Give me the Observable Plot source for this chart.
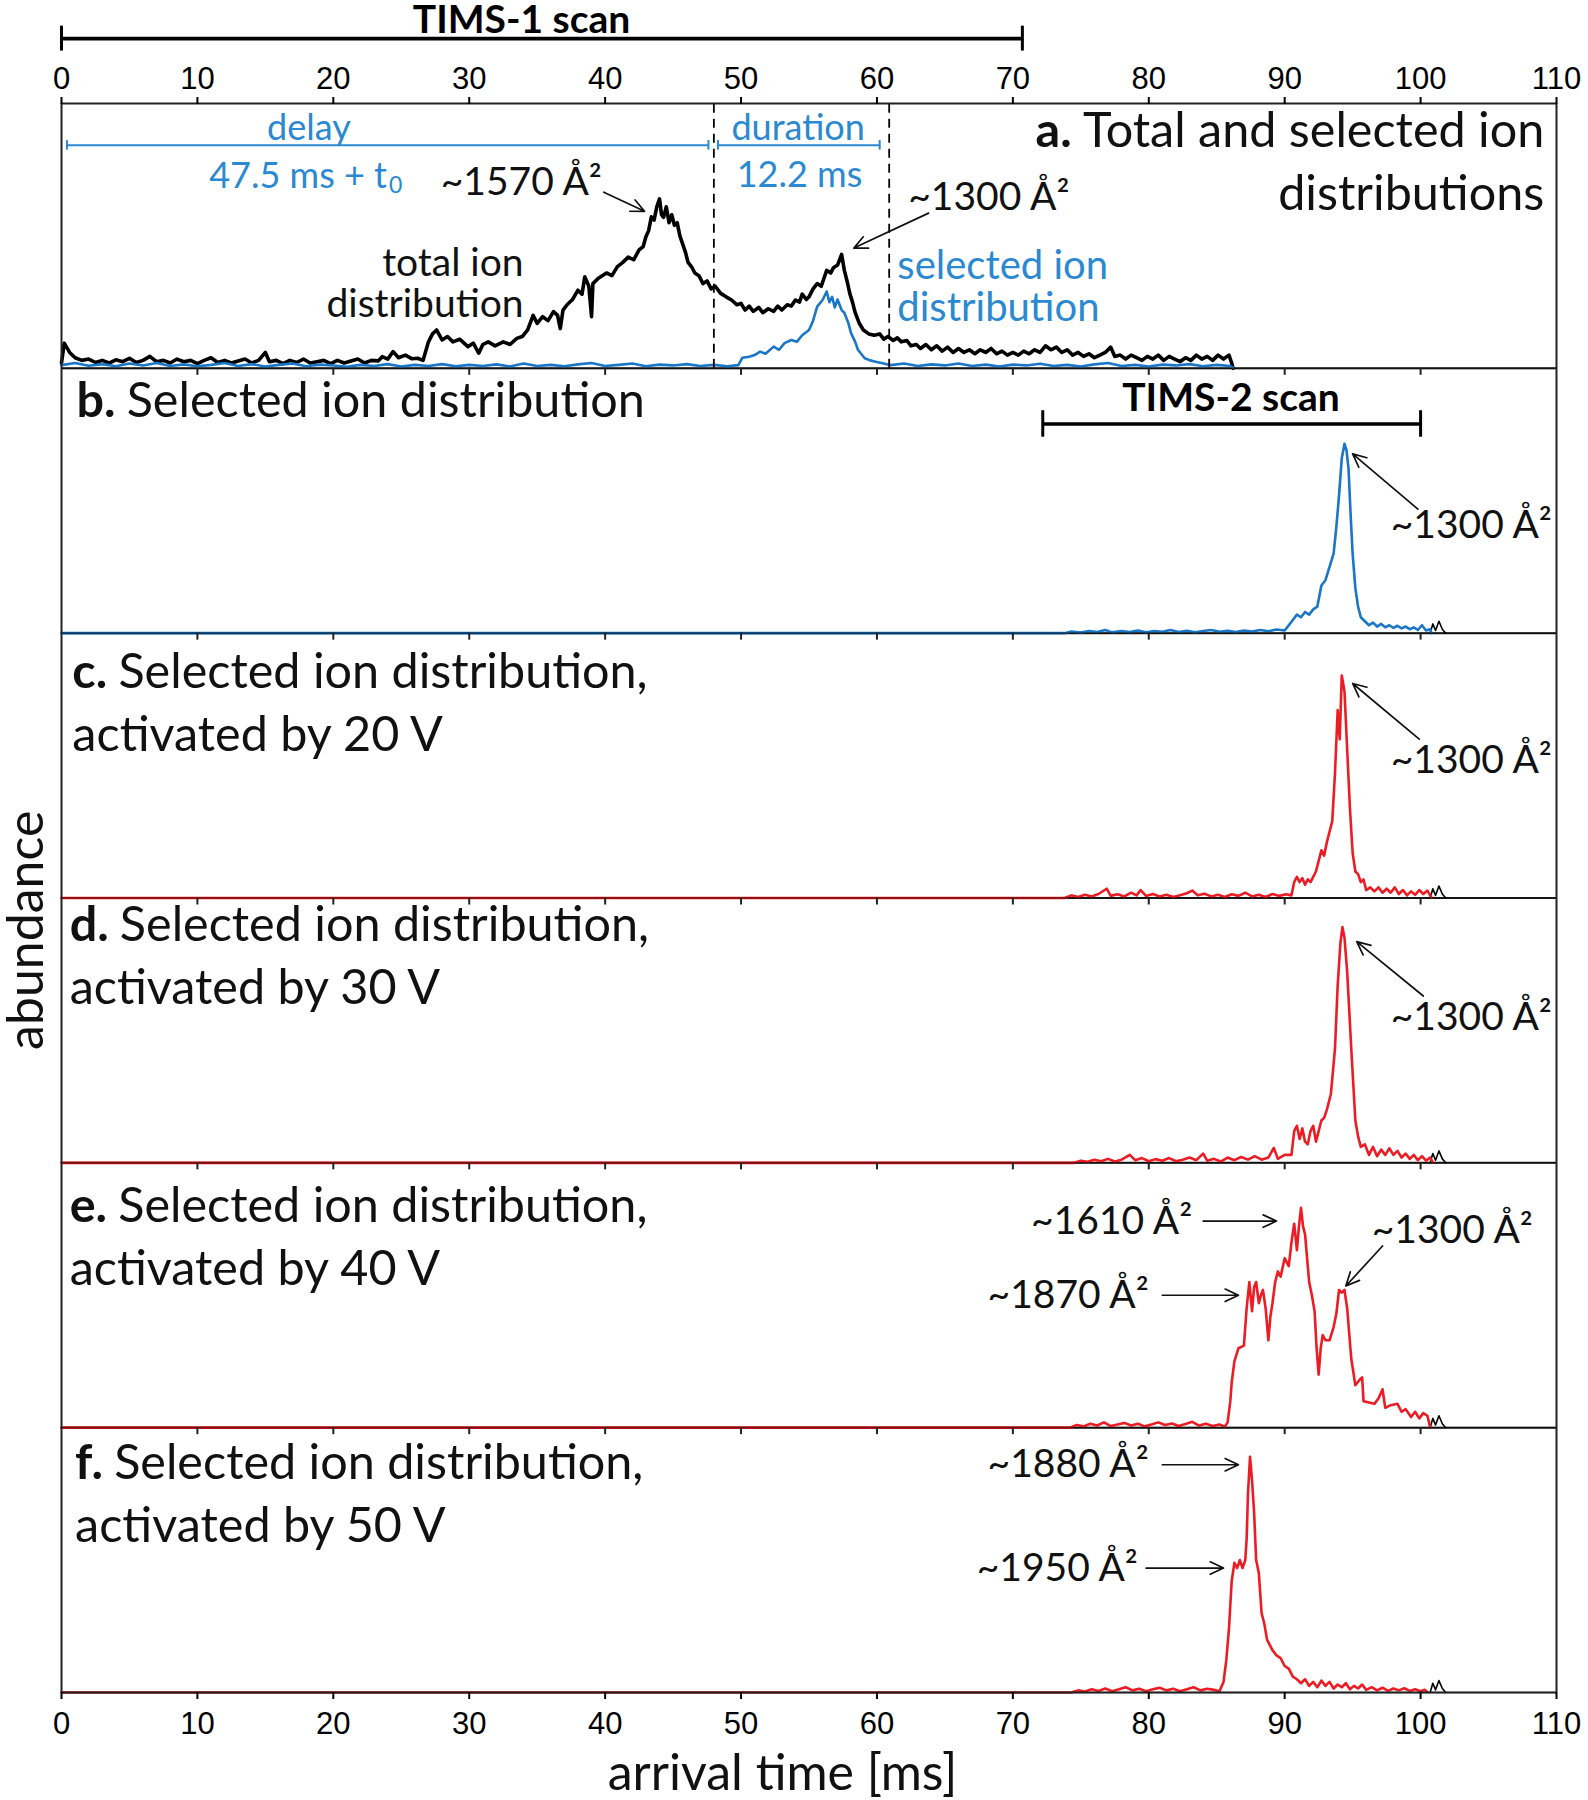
<!DOCTYPE html>
<html>
<head>
<meta charset="utf-8">
<script src="https://cdn.jsdelivr.net/npm/d3@7"></script>
<script src="https://cdn.jsdelivr.net/npm/@observablehq/plot@0.6"></script>
<style>
  html, body { margin: 0; padding: 0; background: #fff; }
  #chart svg { display: block; }
</style>
</head>
<body>
<div id="chart"></div>
<script>
// ---------------- data (arrival time [ms], relative abundance 0..1 of panel) ----------------
const xTicks = [0, 10, 20, 30, 40, 50, 60, 70, 80, 90, 100, 110];

const totalIonA = [[0,0.02],[0.2,0.095],[0.6,0.06],[1,0.04],[1.5,0.03],[2,0.035],[2.5,0.022],[3,0.03],[3.5,0.02],[4,0.032],[4.5,0.025],[5,0.038],[5.5,0.022],[6,0.03],[6.5,0.045],[7,0.025],[7.5,0.03],[8,0.02],[8.5,0.035],[9,0.025],[9.5,0.03],[10,0.018],[10.5,0.03],[11,0.04],[11.5,0.022],[12,0.03],[12.5,0.02],[13,0.028],[13.5,0.035],[14,0.02],[14.5,0.03],[15,0.06],[15.3,0.025],[15.8,0.03],[16.3,0.018],[16.8,0.03],[17.3,0.022],[17.8,0.035],[18.3,0.02],[18.8,0.025],[19.3,0.03],[19.8,0.018],[20.3,0.03],[20.8,0.02],[21.3,0.028],[21.8,0.035],[22.3,0.02],[22.8,0.03],[23.3,0.028],[23.6,0.044],[24.0,0.035],[24.4,0.063],[24.8,0.04],[25.3,0.05],[25.8,0.036],[26.2,0.038],[26.6,0.03],[27.0,0.1],[27.3,0.13],[27.6,0.145],[28.0,0.107],[28.4,0.12],[28.8,0.1],[29.3,0.11],[29.9,0.082],[30.3,0.095],[30.7,0.057],[31.0,0.09],[31.4,0.1],[31.9,0.085],[32.5,0.1],[33.0,0.09],[33.5,0.113],[33.9,0.12],[34.3,0.145],[34.7,0.2],[35.0,0.17],[35.4,0.195],[35.8,0.18],[36.2,0.214],[36.5,0.2],[36.7,0.15],[36.9,0.22],[37.2,0.24],[37.6,0.26],[38.0,0.295],[38.3,0.28],[38.5,0.346],[38.8,0.31],[39.0,0.195],[39.1,0.32],[39.5,0.34],[40.1,0.36],[40.5,0.35],[40.9,0.384],[41.3,0.4],[41.7,0.42],[42.1,0.41],[42.5,0.447],[42.8,0.46],[43.0,0.497],[43.2,0.52],[43.4,0.572],[43.6,0.56],[43.8,0.61],[44.0,0.64],[44.15,0.58],[44.3,0.57],[44.5,0.61],[44.7,0.55],[44.9,0.58],[45.1,0.54],[45.3,0.55],[45.5,0.5],[45.7,0.47],[45.9,0.44],[46.1,0.40],[46.4,0.38],[46.6,0.36],[46.9,0.35],[47.2,0.32],[47.5,0.33],[47.8,0.3],[48.1,0.31],[48.5,0.283],[48.9,0.27],[49.3,0.258],[49.7,0.24],[50.0,0.245],[50.3,0.22],[50.6,0.235],[50.9,0.215],[51.3,0.23],[51.6,0.21],[52.0,0.225],[52.4,0.215],[52.7,0.235],[53.0,0.22],[53.4,0.24],[53.7,0.235],[54.0,0.258],[54.3,0.25],[54.5,0.28],[54.8,0.26],[55.0,0.27],[55.3,0.3],[55.6,0.32],[55.9,0.31],[56.3,0.37],[56.6,0.36],[56.8,0.38],[57.1,0.39],[57.4,0.43],[57.6,0.37],[57.8,0.33],[58.0,0.283],[58.2,0.25],[58.4,0.21],[58.7,0.17],[59.0,0.145],[59.4,0.13],[59.8,0.125],[60.2,0.13],[60.5,0.11],[60.8,0.12],[61.2,0.105],[61.5,0.115],[61.8,0.1],[62.2,0.105],[62.5,0.085],[62.9,0.09],[63.2,0.075],[63.6,0.09],[64,0.07],[64.4,0.085],[64.8,0.065],[65.2,0.08],[65.6,0.06],[66,0.075],[66.4,0.06],[66.8,0.07],[67.2,0.055],[67.6,0.07],[68,0.06],[68.4,0.075],[68.8,0.055],[69.2,0.065],[69.6,0.05],[70,0.06],[70.4,0.05],[70.8,0.065],[71.2,0.055],[71.6,0.07],[72,0.06],[72.4,0.085],[72.8,0.07],[73.2,0.08],[73.6,0.06],[74,0.07],[74.4,0.05],[74.8,0.06],[75.2,0.045],[75.6,0.055],[76,0.04],[76.4,0.05],[76.8,0.06],[77.2,0.08],[77.5,0.045],[77.9,0.05],[78.3,0.035],[78.7,0.05],[79.1,0.04],[79.5,0.03],[79.9,0.045],[80.3,0.035],[80.7,0.05],[81.1,0.03],[81.5,0.045],[81.9,0.035],[82.3,0.025],[82.7,0.04],[83.1,0.03],[83.5,0.05],[83.9,0.035],[84.3,0.045],[84.7,0.03],[85.1,0.05],[85.5,0.035],[85.9,0.05],[86.1,0.02],[86.2,0]];

const selectedIonA = [[0,0.012],[1,0.02],[2,0.01],[3,0.016],[4,0.008],[5,0.018],[6,0.011],[7,0.02],[8,0.009],[9,0.015],[10,0.008],[11,0.013],[12,0.02],[13,0.009],[14,0.016],[15,0.007],[16,0.013],[17,0.018],[18,0.008],[19,0.014],[20,0.011],[21,0.006],[22,0.013],[23,0.009],[24,0.016],[25,0.007],[26,0.013],[27,0.009],[28,0.016],[29,0.008],[30,0.013],[31,0.009],[32,0.015],[33,0.007],[34,0.018],[35,0.009],[36,0.013],[37,0.008],[38,0.015],[39,0.02],[40,0.009],[41,0.013],[42,0.018],[43,0.008],[44,0.014],[45,0.011],[46,0.016],[47,0.009],[48,0.013],[49,0.008],[49.8,0.012],[50.1,0.04],[50.6,0.044],[51.0,0.05],[51.4,0.063],[51.8,0.055],[52.4,0.082],[52.8,0.07],[53.2,0.095],[53.7,0.107],[54.1,0.1],[54.5,0.125],[55.0,0.145],[55.3,0.18],[55.6,0.233],[56.0,0.258],[56.3,0.29],[56.5,0.25],[56.7,0.27],[56.9,0.23],[57.1,0.26],[57.4,0.22],[57.6,0.21],[57.9,0.17],[58.1,0.132],[58.4,0.1],[58.6,0.07],[59.1,0.038],[59.5,0.03],[59.9,0.025],[60.5,0.018],[61,0.012],[62,0.018],[63,0.009],[64,0.015],[65,0.011],[66,0.018],[67,0.009],[68,0.014],[69,0.007],[70,0.014],[71,0.011],[72,0.017],[73,0.009],[74,0.013],[75,0.007],[76,0.015],[77,0.02],[78,0.009],[79,0.013],[80,0.007],[81,0.014],[82,0.011],[83,0.016],[84,0.008],[85,0.013],[86,0.009],[86.2,0.002]];

const selectedB = [[0,0],[73.8,0],[74.3,0.006],[75,0.002],[75.6,0.008],[76.2,0.004],[76.8,0.012],[77.3,0.003],[78,0.008],[78.6,0.004],[79.2,0.01],[79.8,0.003],[80.4,0.008],[81,0.005],[81.6,0.012],[82.2,0.004],[82.8,0.009],[83.4,0.003],[84,0.008],[84.6,0.012],[85.2,0.005],[85.8,0.009],[86.4,0.004],[87,0.01],[87.6,0.006],[88.2,0.012],[88.8,0.007],[89.4,0.014],[90,0.01],[90.3,0.03],[90.6,0.05],[90.9,0.07],[91.2,0.06],[91.5,0.08],[91.8,0.07],[92.1,0.09],[92.4,0.1],[92.7,0.18],[93,0.2],[93.3,0.25],[93.6,0.3],[93.8,0.4],[94,0.52],[94.2,0.66],[94.4,0.715],[94.55,0.69],[94.7,0.62],[94.85,0.45],[95.0,0.3],[95.2,0.17],[95.4,0.1],[95.6,0.06],[95.9,0.045],[96.2,0.03],[96.5,0.04],[96.8,0.025],[97.1,0.035],[97.4,0.022],[97.7,0.03],[98,0.02],[98.3,0.028],[98.6,0.018],[98.9,0.025],[99.2,0.015],[99.5,0.022],[99.8,0.012],[100.1,0.03],[100.4,0.01],[100.7,0.015],[100.8,0]];

const activated20 = [[0,0],[73.8,0],[74.3,0.01],[74.8,0.004],[75.3,0.012],[75.8,0.006],[76.3,0.015],[76.9,0.035],[77.2,0.008],[77.7,0.014],[78.2,0.006],[78.7,0.02],[79.1,0.01],[79.4,0.03],[79.8,0.008],[80.3,0.015],[80.8,0.006],[81.3,0.012],[81.8,0.004],[82.3,0.01],[82.8,0.018],[83.2,0.028],[83.6,0.01],[84.1,0.016],[84.6,0.006],[85.1,0.012],[85.6,0.004],[86.1,0.014],[86.6,0.008],[87.1,0.02],[87.6,0.006],[88.1,0.012],[88.6,0.004],[89.1,0.015],[89.6,0.008],[90.1,0.014],[90.5,0.01],[90.7,0.06],[90.9,0.08],[91.1,0.06],[91.3,0.075],[91.5,0.05],[91.7,0.07],[91.9,0.06],[92.1,0.08],[92.3,0.1],[92.5,0.14],[92.7,0.18],[92.9,0.16],[93.1,0.21],[93.3,0.25],[93.5,0.29],[93.7,0.47],[93.9,0.71],[94.05,0.6],[94.2,0.84],[94.4,0.78],[94.6,0.56],[94.8,0.34],[95.0,0.17],[95.2,0.1],[95.4,0.09],[95.6,0.06],[95.8,0.07],[96,0.03],[96.3,0.04],[96.6,0.025],[96.9,0.04],[97.2,0.02],[97.5,0.035],[97.8,0.02],[98.1,0.04],[98.4,0.015],[98.7,0.03],[99,0.01],[99.3,0.025],[99.6,0.012],[99.9,0.03],[100.2,0.015],[100.5,0.028],[100.8,0.002]];

const activated30 = [[0,0],[74.5,0],[75,0.008],[75.5,0.004],[76,0.012],[76.5,0.006],[77,0.015],[77.5,0.005],[78,0.012],[78.6,0.03],[79,0.01],[79.5,0.018],[80,0.006],[80.5,0.014],[81,0.008],[81.5,0.018],[82,0.006],[82.5,0.012],[83,0.02],[83.5,0.01],[84,0.035],[84.3,0.008],[84.8,0.015],[85.3,0.005],[85.8,0.02],[86.3,0.01],[86.8,0.022],[87.3,0.012],[87.8,0.025],[88.3,0.012],[88.8,0.02],[89.2,0.056],[89.5,0.015],[90,0.03],[90.5,0.03],[90.7,0.12],[90.9,0.14],[91.1,0.09],[91.3,0.13],[91.5,0.08],[91.7,0.07],[91.9,0.12],[92.1,0.14],[92.3,0.08],[92.5,0.12],[92.7,0.16],[92.9,0.17],[93.1,0.2],[93.4,0.26],[93.7,0.43],[93.9,0.67],[94.1,0.83],[94.25,0.89],[94.4,0.85],[94.6,0.72],[94.9,0.43],[95.2,0.16],[95.4,0.1],[95.6,0.06],[95.9,0.07],[96.2,0.03],[96.5,0.06],[96.8,0.025],[97.1,0.05],[97.4,0.03],[97.7,0.055],[98,0.03],[98.3,0.045],[98.6,0.02],[98.9,0.035],[99.2,0.015],[99.5,0.03],[99.8,0.01],[100.1,0.025],[100.4,0.008],[100.7,0.02],[100.9,0.002]];

const activated40 = [[0,0],[74.2,0],[74.7,0.01],[75.2,0.005],[75.7,0.015],[76.2,0.008],[76.7,0.02],[77.2,0.006],[77.7,0.012],[78.2,0.018],[78.7,0.008],[79.2,0.015],[79.7,0.005],[80.2,0.012],[80.7,0.02],[81.2,0.01],[81.7,0.016],[82.2,0.006],[82.7,0.014],[83.2,0.022],[83.7,0.008],[84.2,0.015],[84.7,0.006],[85.2,0.012],[85.6,0.004],[85.8,0.02],[86.0,0.1],[86.1,0.17],[86.3,0.25],[86.6,0.30],[87.0,0.31],[87.2,0.45],[87.4,0.55],[87.6,0.44],[87.75,0.53],[87.9,0.55],[88.1,0.47],[88.25,0.5],[88.4,0.52],[88.6,0.45],[88.8,0.33],[88.95,0.42],[89.1,0.47],[89.3,0.55],[89.5,0.59],[89.7,0.57],[90.0,0.64],[90.3,0.61],[90.5,0.7],[90.7,0.77],[90.9,0.67],[91.05,0.76],[91.2,0.83],[91.35,0.76],[91.5,0.73],[91.8,0.55],[92.0,0.5],[92.2,0.44],[92.35,0.3],[92.5,0.2],[92.65,0.3],[92.8,0.35],[93.0,0.33],[93.3,0.33],[93.6,0.38],[93.8,0.43],[94.0,0.52],[94.2,0.51],[94.4,0.52],[94.6,0.45],[94.9,0.26],[95.2,0.16],[95.5,0.18],[95.7,0.19],[95.8,0.1],[96.2,0.095],[96.6,0.09],[96.9,0.11],[97.2,0.145],[97.4,0.075],[97.8,0.085],[98.3,0.09],[98.6,0.06],[98.9,0.07],[99.3,0.04],[99.6,0.06],[99.9,0.035],[100.2,0.055],[100.5,0.045],[100.7,0.003]];

const activated50 = [[0,0],[74.3,0],[74.8,0.008],[75.3,0.004],[75.8,0.012],[76.3,0.006],[76.8,0.015],[77.3,0.005],[77.8,0.012],[78.3,0.02],[78.8,0.008],[79.3,0.014],[79.8,0.005],[80.3,0.012],[80.8,0.018],[81.3,0.008],[81.8,0.014],[82.3,0.005],[82.8,0.012],[83.3,0.02],[83.8,0.008],[84.3,0.014],[84.8,0.01],[85.2,0.005],[85.5,0.04],[85.7,0.12],[85.9,0.24],[86.1,0.42],[86.3,0.49],[86.5,0.47],[86.7,0.5],[86.9,0.47],[87.1,0.5],[87.2,0.58],[87.3,0.75],[87.45,0.89],[87.6,0.8],[87.75,0.68],[87.9,0.5],[88.1,0.45],[88.3,0.3],[88.5,0.26],[88.7,0.2],[88.9,0.18],[89.1,0.16],[89.4,0.14],[89.7,0.13],[90,0.1],[90.3,0.09],[90.6,0.06],[90.9,0.05],[91.2,0.035],[91.5,0.05],[91.8,0.025],[92.1,0.04],[92.4,0.02],[92.7,0.045],[93,0.025],[93.3,0.04],[93.6,0.015],[93.9,0.03],[94.2,0.02],[94.5,0.035],[94.8,0.012],[95.1,0.025],[95.4,0.015],[95.7,0.03],[96,0.01],[96.4,0.02],[96.8,0.008],[97.2,0.018],[97.6,0.006],[98,0.015],[98.4,0.008],[98.8,0.016],[99.2,0.006],[99.6,0.012],[100,0.005],[100.3,0.01],[100.5,0.002]];

// small black tail of the reference trace visible past the coloured one (panels b-f)
const blackTail = [[100.7,0],[100.9,0.035],[101.1,0.01],[101.35,0.045],[101.6,0.015],[101.85,0]];

const titleBold = ["a.", "b.", "c.", "d.", "e.", "f."];
const titleRest = ["Total and selected ion", "Selected ion distribution", "Selected ion distribution,", "Selected ion distribution,", "Selected ion distribution,", "Selected ion distribution,"];
const titleLine2 = ["distributions", "", "activated by 20 V", "activated by 30 V", "activated by 40 V", "activated by 50 V"];

// ---------------- layout ----------------
const base = {a: 5, b: 4, c: 3, d: 2, e: 1, f: 0};   // each panel spans [base, base+1]
const rows = (arr, p) => arr.map(([t, v]) => ({t, y: base[p] + v}));

const blue = "#1a76c6", blueText = "#2b89d2", red = "#ec1c24";
const FONT = "Lato";
const TITLE = 48.5, ANN = 39, BLUE_ANN = 36;

const titleLayout = [
  {p: "a", x: 109.1, y1: 0.893, y2: 0.655, align: "end"},
  {p: "b", x: 1.1, y1: 0.873, align: "start"},
  {p: "c", x: 0.8, y1: 0.853, y2: 0.615, align: "start"},
  {p: "d", x: 0.6, y1: 0.896, y2: 0.66, align: "start"},
  {p: "e", x: 0.6, y1: 0.835, y2: 0.597, align: "start"},
  {p: "f", x: 1.0, y1: 0.865, y2: 0.628, align: "start"}
];

const ctx = document.createElement("canvas").getContext("2d");
function tw(s, weight, size) { ctx.font = `${weight} ${size}px ${FONT}`; return ctx.measureText(s).width; }

const titleRows = [];   // {x, y, text, anchor, dx, weight}
titleLayout.forEach((L, i) => {
  const y1 = base[L.p] + L.y1;
  const space = tw(" ", 400, TITLE) * 0.9;
  if (L.align === "end") {
    titleRows.push({x: L.x, y: y1, text: titleRest[i], anchor: "end", dx: 0, weight: 400});
    titleRows.push({x: L.x, y: y1, text: titleBold[i], anchor: "end", dx: -(tw(titleRest[i], 400, TITLE) + space), weight: 700});
  } else {
    titleRows.push({x: L.x, y: y1, text: titleBold[i], anchor: "start", dx: 0, weight: 700});
    titleRows.push({x: L.x, y: y1, text: titleRest[i], anchor: "start", dx: tw(titleBold[i], 700, TITLE) + space, weight: 400});
  }
  if (titleLine2[i]) titleRows.push({x: L.x, y: base[L.p] + L.y2, text: titleLine2[i], anchor: L.align, dx: 0, weight: 400});
});

const annotations = [
  {x: 27.9, y: 5.70, text: "~1570 Å²", anchor: "start"},
  {x: 62.3, y: 5.645, text: "~1300 Å²", anchor: "start"},
  {x: 34.0, y: 5.397, text: "total ion", anchor: "end"},
  {x: 34.0, y: 5.24, text: "distribution", anchor: "end"},
  {x: 97.8, y: 4.405, text: "~1300 Å²", anchor: "start"},
  {x: 97.8, y: 3.52, text: "~1300 Å²", anchor: "start"},
  {x: 97.8, y: 2.55, text: "~1300 Å²", anchor: "start"},
  {x: 96.4, y: 1.743, text: "~1300 Å²", anchor: "start"},
  {x: 83.2, y: 1.78, text: "~1610 Å²", anchor: "end"},
  {x: 80.0, y: 1.50, text: "~1870 Å²", anchor: "end"},
  {x: 80.0, y: 0.86, text: "~1880 Å²", anchor: "end"},
  {x: 79.2, y: 0.47, text: "~1950 Å²", anchor: "end"}
];
const blueAnn = [
  {x: 61.5, y: 5.385, text: "selected ion", anchor: "start", size: 40},
  {x: 61.5, y: 5.227, text: "distribution", anchor: "start", size: 40},
  {x: 18.2, y: 5.905, text: "delay", anchor: "middle", size: BLUE_ANN},
  {x: 54.2, y: 5.905, text: "duration", anchor: "middle", size: BLUE_ANN},
  {x: 54.3, y: 5.728, text: "12.2 ms", anchor: "middle", size: BLUE_ANN},
  {x: 23.95, y: 5.725, text: "47.5 ms + t", anchor: "end", size: BLUE_ANN}
];
const arrows = [
  {x1: 39.9, y1: 5.665, x2: 42.9, y2: 5.593},
  {x1: 63.8, y1: 5.586, x2: 58.3, y2: 5.454},
  {x1: 99.8, y1: 4.468, x2: 95.0, y2: 4.677},
  {x1: 99.9, y1: 3.60, x2: 95.0, y2: 3.81},
  {x1: 100.2, y1: 2.63, x2: 95.3, y2: 2.835},
  {x1: 84.0, y1: 1.78, x2: 89.4, y2: 1.78},
  {x1: 81.0, y1: 1.50, x2: 86.6, y2: 1.50},
  {x1: 97.2, y1: 1.686, x2: 94.5, y2: 1.535},
  {x1: 81.0, y1: 0.86, x2: 86.6, y2: 0.86},
  {x1: 79.8, y1: 0.47, x2: 85.5, y2: 0.47}
];
const brackets = [
  {x1: 0, x2: 70.7, y: 6.245, cap: 0.047, label: "TIMS-1 scan", ly: 6.314, lx: 33.85},
  {x1: 72.2, x2: 100.0, y: 4.79, cap: 0.05, label: "TIMS-2 scan", ly: 4.886, lx: 86.05}
];
const spans = [
  {x1: 0.4, x2: 47.6, y: 5.842},
  {x1: 48.3, x2: 60.2, y: 5.842}
];
const dashed = [48.0, 60.9];
const TICK = 7 / 264.8; // tick length in panel units
const innerTicks = [1, 2, 3, 4, 5].flatMap(k => xTicks.slice(1, -1).map(x => ({x, y: k})));

// text helper: one text mark per anchor (textAnchor is a constant option)
function texts(data, opts) {
  return ["start", "middle", "end"].map(a => Plot.text(data.filter(d => d.anchor === a), {x: "x", y: "y", text: "text", ...opts, textAnchor: a}));
}

const chart = Plot.plot({
  width: 1588,
  height: 1800,
  marginLeft: 61, marginRight: 32, marginTop: 103, marginBottom: 108,
  x: {domain: [0, 110], label: null},
  y: {domain: [0, 6], axis: null},
  style: {fontFamily: "Liberation Sans", background: "white", color: "black"},
  marks: [
    // panel boundaries
    Plot.ruleY([1, 2, 3, 4, 5], {stroke: "#222", strokeWidth: 2}),
    // traces
    Plot.line(rows(totalIonA, "a"), {x: "t", y: "y", stroke: "#000", strokeWidth: 3.6}),
    Plot.line(rows(selectedIonA, "a"), {x: "t", y: "y", stroke: blue, strokeWidth: 2.6}),
    ...["b", "c", "d", "e", "f"].map(p => Plot.line(rows(blackTail, p), {x: "t", y: "y", stroke: "#000", strokeWidth: 1.6})),
    Plot.line(rows(selectedB, "b"), {x: "t", y: "y", stroke: blue, strokeWidth: 2.6}),
    Plot.line(rows(activated20, "c"), {x: "t", y: "y", stroke: red, strokeWidth: 2.6}),
    Plot.line(rows(activated30, "d"), {x: "t", y: "y", stroke: red, strokeWidth: 2.6}),
    Plot.line(rows(activated40, "e"), {x: "t", y: "y", stroke: red, strokeWidth: 2.6}),
    Plot.line(rows(activated50, "f"), {x: "t", y: "y", stroke: red, strokeWidth: 2.6}),
    Plot.ruleY([0, 1, 2, 3, 4, 5], {stroke: "#000", strokeWidth: 1.6, strokeOpacity: 0.5}),
    // frame
    Plot.ruleY([0, 6], {stroke: "#222", strokeWidth: 2}),
    Plot.ruleX([0, 110], {y1: 0, y2: 6, stroke: "#222", strokeWidth: 2}),
    Plot.ruleX(innerTicks, {x: "x", y1: "y", y2: d => d.y - TICK, stroke: "#222", strokeWidth: 2}),
    // axes
    Plot.axisX({anchor: "top", ticks: xTicks, tickSize: 7, tickPadding: 8, fontSize: 31, strokeWidth: 2, label: null}),
    Plot.axisX({anchor: "bottom", ticks: xTicks, tickSize: 7, tickPadding: 12, fontSize: 31, strokeWidth: 2, label: null}),
    // selection window (panel a)
    Plot.ruleX(dashed, {y1: 5, y2: 6, stroke: "#000", strokeWidth: 1.8, strokeDasharray: "9,6"}),
    Plot.ruleY(spans, {y: "y", x1: "x1", x2: "x2", stroke: blueText, strokeWidth: 2}),
    Plot.ruleX(spans.flatMap(s => [{x: s.x1, y: s.y}, {x: s.x2, y: s.y}]), {x: "x", y1: d => d.y - 0.018, y2: d => d.y + 0.018, stroke: blueText, strokeWidth: 2}),
    // scan brackets
    Plot.ruleY(brackets, {y: "y", x1: "x1", x2: "x2", stroke: "#000", strokeWidth: 3.6}),
    Plot.ruleX(brackets.flatMap(b => [{x: b.x1, b}, {x: b.x2, b}]), {x: "x", y1: d => d.b.y - d.b.cap, y2: d => d.b.y + d.b.cap, stroke: "#000", strokeWidth: 3}),
    Plot.text(brackets, {x: "lx", y: "ly", text: "label", fontFamily: FONT, fontWeight: 700, fontSize: 39, fill: "#000"}),
    // arrows
    Plot.arrow(arrows, {x1: "x1", y1: "y1", x2: "x2", y2: "y2", stroke: "#111", strokeWidth: 1.7, headLength: 13, headAngle: 50}),
    // annotation texts
    ...texts(annotations, {fontFamily: FONT, fontSize: ANN, fill: "#111"}),
    ...texts(blueAnn, {fontFamily: FONT, fontSize: "size", fill: blueText}),
    Plot.text([{x: 24.1, y: 5.725, text: "0"}], {x: "x", y: "y", text: "text", textAnchor: "start", dy: 9, fontFamily: FONT, fontSize: 23, fill: blueText}),
    // panel titles (bold letter + regular text; dx offsets from measured text widths)
    ...titleRows.map(r => Plot.text([r], {x: "x", y: "y", text: "text", textAnchor: r.anchor, dx: r.dx, fontFamily: FONT, fontWeight: r.weight, fontSize: TITLE, fill: "#111"})),
    // axis titles
    Plot.text([{x: 53.05, y: -0.308, text: "arrival time [ms]"}], {x: "x", y: "y", text: "text", fontFamily: FONT, fontSize: 50, fill: "#111"}),
    Plot.text([{x: -2.55, y: 2.878, text: "abundance"}], {x: "x", y: "y", text: "text", rotate: -90, fontFamily: FONT, fontSize: 50, fill: "#111"})
  ]
});

document.getElementById("chart").append(chart);
</script>
</body>
</html>
